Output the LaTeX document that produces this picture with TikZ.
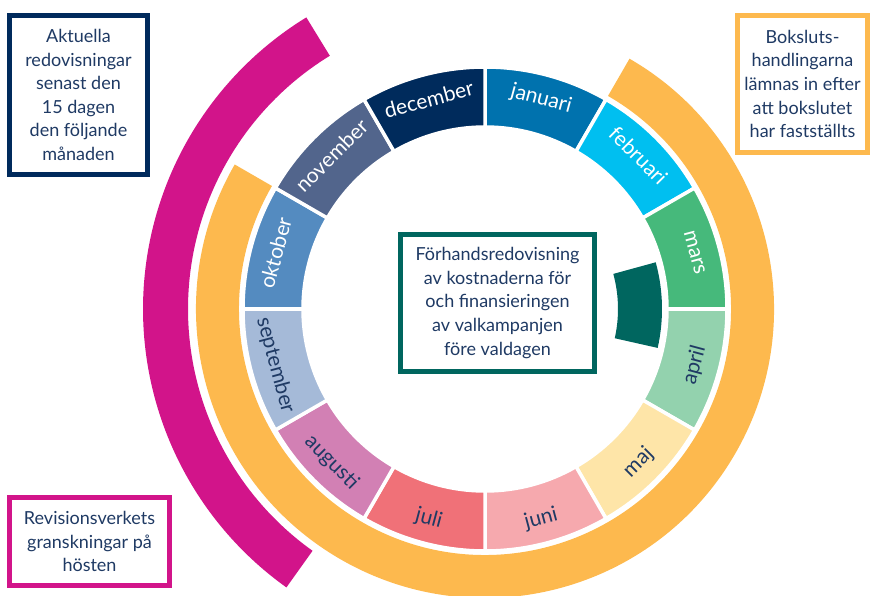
\documentclass[tikz,border=0pt]{standalone}
\usepackage{fontspec}
\setmainfont{Lato}
\usepackage{tikz}
\usetikzlibrary{positioning}

\definecolor{textnavy}{HTML}{1F3A64}
\definecolor{boxnavy}{HTML}{002A5C}
\definecolor{boxteal}{HTML}{00665F}
\definecolor{bokorange}{HTML}{FDB94E}
\definecolor{revmagenta}{HTML}{D2148A}
\definecolor{janc}{HTML}{0072AE}
\definecolor{febc}{HTML}{00BFF0}
\definecolor{marc}{HTML}{46B97B}
\definecolor{aprc}{HTML}{93D2AE}
\definecolor{majc}{HTML}{FEE5A8}
\definecolor{junc}{HTML}{F6A9AE}
\definecolor{julc}{HTML}{F07178}
\definecolor{augc}{HTML}{D280B4}
\definecolor{sepc}{HTML}{A5BAD8}
\definecolor{oktc}{HTML}{548BC0}
\definecolor{novc}{HTML}{52658C}
\definecolor{decc}{HTML}{002B5C}

\begin{document}
\begin{tikzpicture}[x=1pt,y=1pt,
		month/.style={inner sep=0pt, font=\fontsize{21}{24}\selectfont},
		infobox/.style={draw, line width=5pt, fill=white, text=textnavy,
			align=center, inner sep=0pt, font=\fontsize{18}{23.6}\selectfont},
		segment/.style={draw=white, line width=3.5pt}]

		\useasboundingbox (0,0) rectangle (872,595);

		\begin{scope}[shift={(485,286)}]
			% outer bands
			\fill[revmagenta] (121.5:297) arc[start angle=121.5, end angle=234.5, radius=297]
				-- (234.5:342) arc[start angle=234.5, end angle=121.5, radius=342] -- cycle;
			\fill[bokorange] (60:246) arc[start angle=60, end angle=-210, radius=246]
				-- (-210:289) arc[start angle=-210, end angle=60, radius=289] -- cycle;

			% month ring
			\filldraw[segment, fill=janc] (60:182) arc[start angle=60, end angle=90, radius=182] -- (90:242) arc[start angle=90, end angle=60, radius=242] -- cycle;
			\filldraw[segment, fill=febc] (30:182) arc[start angle=30, end angle=60, radius=182] -- (60:242) arc[start angle=60, end angle=30, radius=242] -- cycle;
			\filldraw[segment, fill=marc] (0:182) arc[start angle=0, end angle=30, radius=182] -- (30:242) arc[start angle=30, end angle=0, radius=242] -- cycle;
			\filldraw[segment, fill=aprc] (-30:182) arc[start angle=-30, end angle=0, radius=182] -- (0:242) arc[start angle=0, end angle=-30, radius=242] -- cycle;
			\filldraw[segment, fill=majc] (-60:182) arc[start angle=-60, end angle=-30, radius=182] -- (-30:242) arc[start angle=-30, end angle=-60, radius=242] -- cycle;
			\filldraw[segment, fill=junc] (-90:182) arc[start angle=-90, end angle=-60, radius=182] -- (-60:242) arc[start angle=-60, end angle=-90, radius=242] -- cycle;
			\filldraw[segment, fill=julc] (-120:182) arc[start angle=-120, end angle=-90, radius=182] -- (-90:242) arc[start angle=-90, end angle=-120, radius=242] -- cycle;
			\filldraw[segment, fill=augc] (-150:182) arc[start angle=-150, end angle=-120, radius=182] -- (-120:242) arc[start angle=-120, end angle=-150, radius=242] -- cycle;
			\filldraw[segment, fill=sepc] (-180:182) arc[start angle=-180, end angle=-150, radius=182] -- (-150:242) arc[start angle=-150, end angle=-180, radius=242] -- cycle;
			\filldraw[segment, fill=oktc] (150:182) arc[start angle=150, end angle=180, radius=182] -- (180:242) arc[start angle=180, end angle=150, radius=242] -- cycle;
			\filldraw[segment, fill=novc] (120:182) arc[start angle=120, end angle=150, radius=182] -- (150:242) arc[start angle=150, end angle=120, radius=242] -- cycle;
			\filldraw[segment, fill=decc] (90:182) arc[start angle=90, end angle=120, radius=182] -- (120:242) arc[start angle=120, end angle=90, radius=242] -- cycle;

			% inner marker
			\fill[boxteal] (-12.7:133) arc[start angle=-12.7, end angle=15.3, radius=133]
				-- (15.3:177) arc[start angle=15.3, end angle=-12.7, radius=177] -- cycle;

			\node[month, text=white, rotate=-15] (januari) at (75:217) {januari};
			\node[month, text=white, rotate=-45] (februari) at (45:217) {februari};
			\node[month, text=white, rotate=-75] (mars) at (15:217) {mars};
			\node[month, text=textnavy, rotate=75] (april) at (-15:217) {april};
			\node[month, text=textnavy, rotate=45] (maj) at (-45:217) {maj};
			\node[month, text=textnavy, rotate=15] (juni) at (-75:217) {juni};
			\node[month, text=textnavy, rotate=-15] (juli) at (-105:217) {juli};
			\node[month, text=textnavy, rotate=-45] (augusti) at (-135:217) {augusti};
			\node[month, text=textnavy, rotate=-75] (september) at (-165:217) {september};
			\node[month, text=white, rotate=75] (oktober) at (165:217) {oktober};
			\node[month, text=white, rotate=45] (november) at (135:217) {november};
			\node[month, text=white, rotate=15] (december) at (105:217) {december};
		\end{scope}

		\node[infobox,
			draw=boxteal,
			minimum width=194pt,
			minimum height=137pt
		] (valkampanj) at (497.5,292) {Förhandsredovisning\\av kostnaderna för\\och finansieringen\\av valkampanjen\\före valdagen};

		\node[infobox,
			draw=boxnavy,
			minimum width=138pt,
			minimum height=159pt
		] (aktuella) at (78.5,500) {Aktuella\\redovisningar\\senast den\\15 dagen\\den följande\\månaden};

		\node[infobox,
			draw=bokorange,
			minimum width=130pt,
			minimum height=137pt
		] (bokslut) at (802.5,511) {Boksluts-\\handlingarna\\lämnas in efter\\att bokslutet\\har fastställts};

		\node[infobox,
			draw=revmagenta,
			minimum width=160pt,
			minimum height=88pt
		] (revision) at (89.5,53.5) {Revisionsverkets\\granskningar på\\hösten};

	\end{tikzpicture}
\end{document}
